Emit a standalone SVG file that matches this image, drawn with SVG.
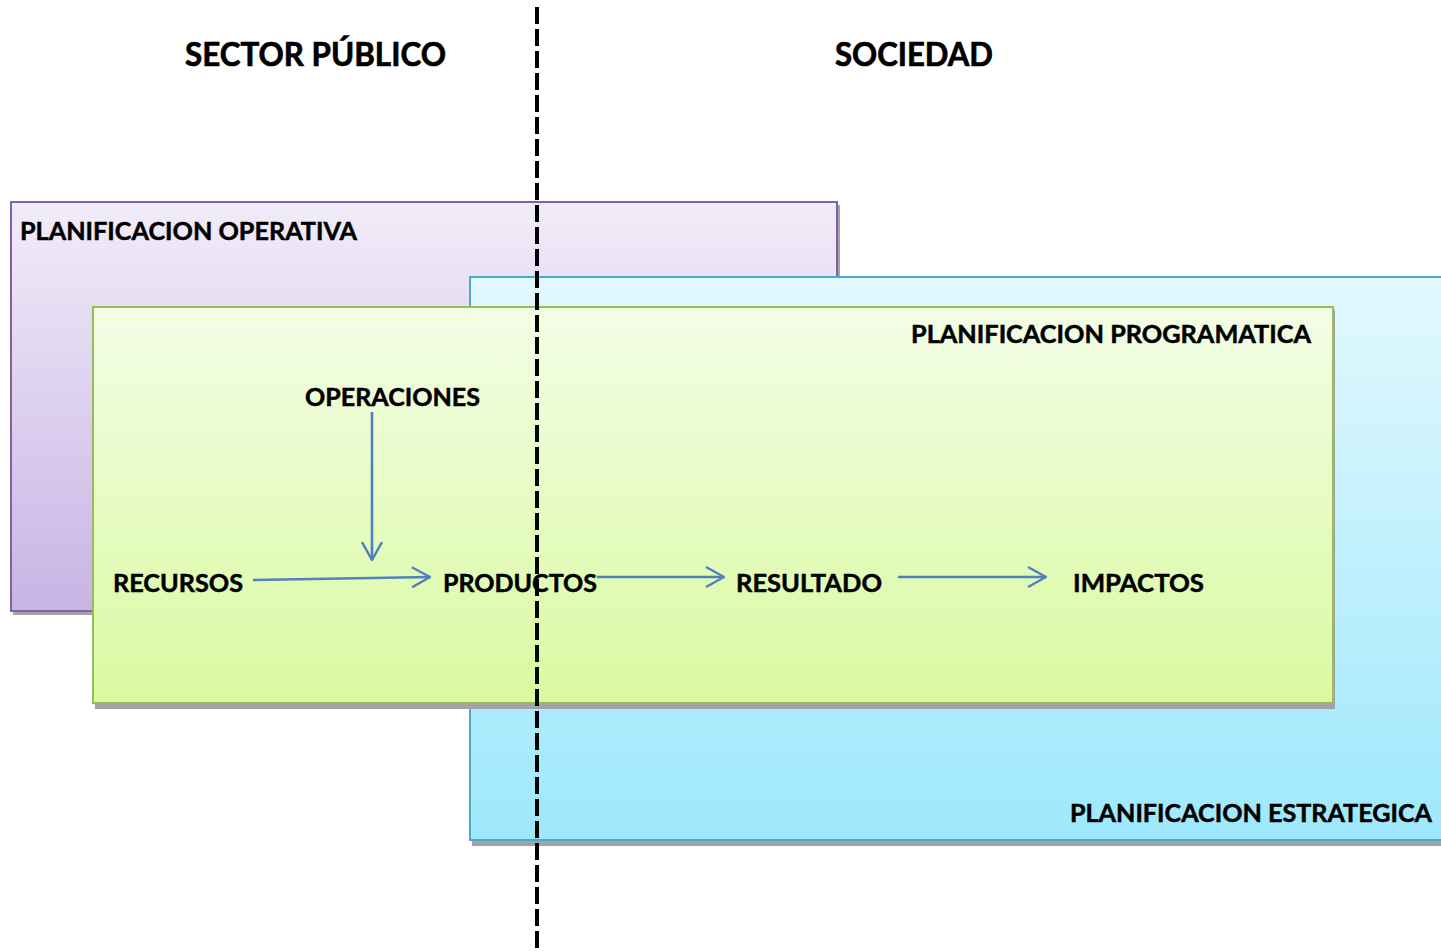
<svg xmlns="http://www.w3.org/2000/svg" width="1441" height="951" viewBox="0 0 1441 951">
  <defs>
    <linearGradient id="gPurple" x1="0" y1="0" x2="0" y2="1">
      <stop offset="0" stop-color="#F1ECF9"/>
      <stop offset="1" stop-color="#C8B4E5"/>
    </linearGradient>
    <linearGradient id="gBlue" x1="0" y1="0" x2="0" y2="1">
      <stop offset="0" stop-color="#E2F8FE"/>
      <stop offset="1" stop-color="#9EE8FC"/>
    </linearGradient>
    <linearGradient id="gGreen" x1="0" y1="0" x2="0" y2="1">
      <stop offset="0" stop-color="#F3FDE6"/>
      <stop offset="1" stop-color="#D9FAA0"/>
    </linearGradient>
    <marker id="arr" viewBox="0 0 20 22" refX="19" refY="11" markerWidth="20" markerHeight="22" markerUnits="userSpaceOnUse" orient="auto">
      <path d="M1,1 L19,11 L1,21" fill="none" stroke="#4F81BD" stroke-width="2.4"/>
    </marker>
  </defs>
  <style>
    .lbl { font-family: "Lato", "Liberation Sans", sans-serif; font-weight: bold; fill: #000; stroke: #000; stroke-width: 0.5px; }
    .body { font-size: 25px; }
    .title { font-size: 33px; stroke-width: 0.7px; }
    .shadow { fill: #A3A3A3; }
    .conn { stroke: #4F81BD; stroke-width: 2.6; fill: none; marker-end: url(#arr); }
  </style>
  <rect width="1441" height="951" fill="#FFFFFF"/>

  <g id="header-sector-publico">
    <text class="lbl title" x="185" y="66" textLength="261" lengthAdjust="spacingAndGlyphs">SECTOR PÚBLICO</text>
  </g>
  <g id="header-sociedad">
    <text class="lbl title" x="835" y="66" textLength="158" lengthAdjust="spacingAndGlyphs">SOCIEDAD</text>
  </g>

  <g id="planificacion-operativa">
    <rect class="shadow" x="13" y="205" width="827" height="410"/>
    <rect x="11" y="202" width="826" height="409" fill="url(#gPurple)" stroke="#8064A2" stroke-width="2"/>
    <text class="lbl body" x="20" y="240" textLength="337" lengthAdjust="spacingAndGlyphs">PLANIFICACION OPERATIVA</text>
  </g>

  <g id="planificacion-estrategica">
    <rect class="shadow" x="472" y="280" width="975" height="566"/>
    <rect x="470" y="277" width="975" height="563" fill="url(#gBlue)" stroke="#4BACC6" stroke-width="2"/>
    <text class="lbl body" x="1070" y="822" textLength="362" lengthAdjust="spacingAndGlyphs">PLANIFICACION ESTRATEGICA</text>
  </g>

  <g id="planificacion-programatica">
    <rect class="shadow" x="95" y="310" width="1240" height="399"/>
    <rect x="93" y="307" width="1240" height="396" fill="url(#gGreen)" stroke="#9BBB59" stroke-width="2"/>
    <text class="lbl body" x="911" y="343" textLength="400" lengthAdjust="spacingAndGlyphs">PLANIFICACION PROGRAMATICA</text>
  </g>

  <g id="operaciones">
    <text class="lbl body" x="305" y="406" textLength="175" lengthAdjust="spacingAndGlyphs">OPERACIONES</text>
  </g>
  <g id="recursos">
    <text class="lbl body" x="113" y="592" textLength="130" lengthAdjust="spacingAndGlyphs">RECURSOS</text>
  </g>
  <g id="productos">
    <text class="lbl body" x="443" y="592" textLength="154" lengthAdjust="spacingAndGlyphs">PRODUCTOS</text>
  </g>
  <g id="resultado">
    <text class="lbl body" x="736" y="592" textLength="146" lengthAdjust="spacingAndGlyphs">RESULTADO</text>
  </g>
  <g id="impactos">
    <text class="lbl body" x="1073" y="592" textLength="131" lengthAdjust="spacingAndGlyphs">IMPACTOS</text>
  </g>

  <g id="connectors">
    <line class="conn" x1="372" y1="412" x2="372" y2="560"/>
    <line class="conn" x1="253" y1="580" x2="430" y2="577"/>
    <line class="conn" x1="597" y1="577" x2="724" y2="577"/>
    <line class="conn" x1="898" y1="577" x2="1046" y2="577"/>
  </g>

  <g id="divider">
    <line x1="537" y1="7" x2="537" y2="951" stroke="#000000" stroke-width="4" stroke-dasharray="17 5"/>
  </g>
</svg>
